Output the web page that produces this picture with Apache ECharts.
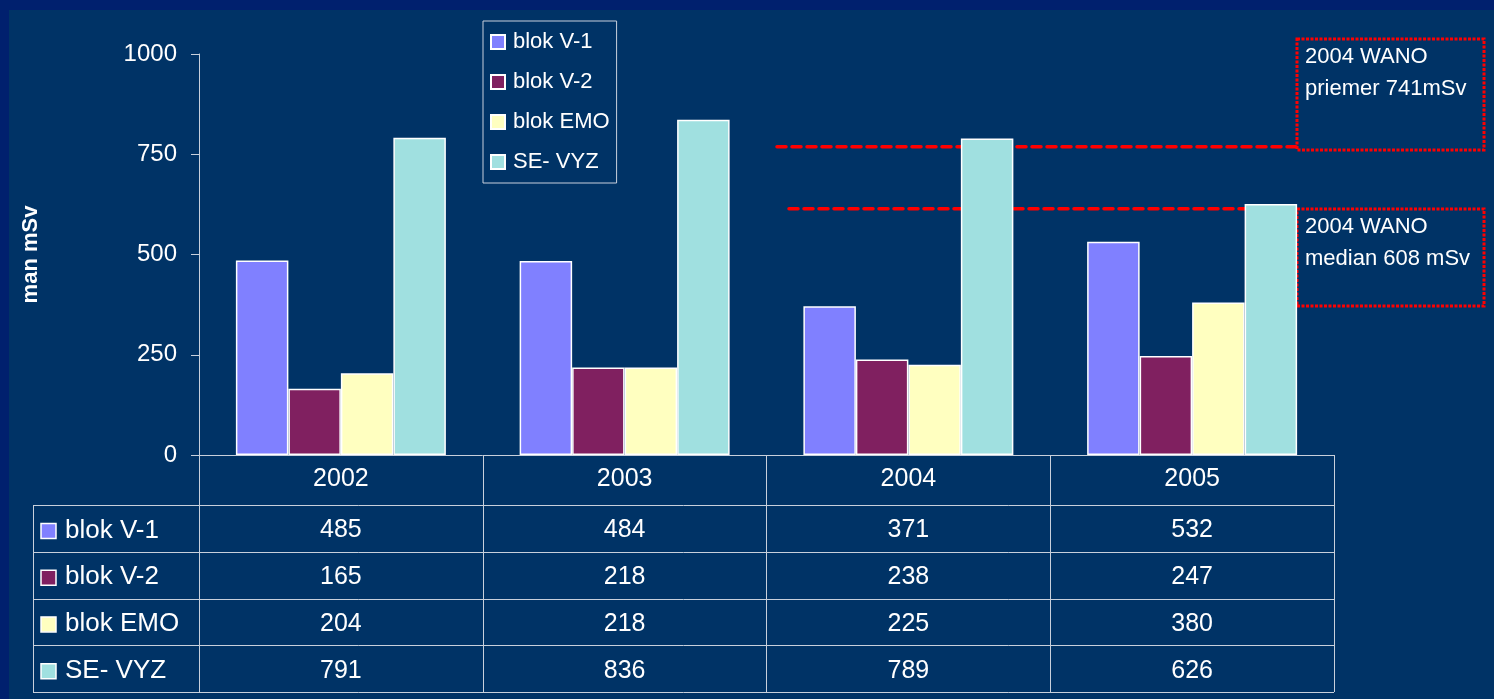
<!DOCTYPE html>
<html>
<head>
<meta charset="utf-8">
<script src="https://cdn.jsdelivr.net/npm/echarts@6/dist/echarts.min.js"></script>
<style>
  html, body { margin: 0; padding: 0; background: #00206e; }
  #chart { width: 1494px; height: 699px; }
</style>
</head>
<body>
<div id="chart"></div>
<script>
// data
const categories = ['2002', '2003', '2004', '2005'];
const seriesNames = ['blok V-1', 'blok V-2', 'blok EMO', 'SE- VYZ'];
const blokV1 = [485, 484, 371, 532];
const blokV2 = [165, 218, 238, 247];
const blokEMO = [204, 218, 225, 380];
const seVYZ = [791, 836, 789, 626];
const seriesColors = ['#8080ff', '#802060', '#ffffc0', '#a0e0e0'];
// where the dashed WANO lines are drawn (as on the picture) and their notes
const wanoLevels = [769, 614];
const wanoNotes = [['2004 WANO', 'priemer 741mSv'], ['2004 WANO', 'median 608 mSv']];

const allSeries = [blokV1, blokV2, blokEMO, seVYZ];
const FONT = '"Liberation Sans", Arial, sans-serif';
const LINE = '#c8d0dc';
const GRID = { left: 199, top: 54, width: 1135, height: 401 };

const chart = echarts.init(document.getElementById('chart'));

const option = {
  backgroundColor: '#00206e',
  textStyle: { fontFamily: FONT },
  animation: false,
  grid: GRID,
  legend: {
    orient: 'vertical',
    left: 483,
    top: 21,
    padding: [9, 7, 9, 7],
    itemGap: 16,
    itemWidth: 14,
    itemHeight: 14,
    borderColor: LINE,
    borderWidth: 1,
    icon: 'rect',
    data: seriesNames,
    textStyle: { color: '#fff', fontSize: 22, lineHeight: 24, padding: [0, 0, 0, 3], fontFamily: FONT }
  },
  xAxis: {
    type: 'category',
    data: categories,
    axisLine: { lineStyle: { color: LINE, width: 1 } },
    axisTick: { show: true, length: 237, lineStyle: { color: LINE, width: 1 } },
    axisLabel: { color: '#fff', fontSize: 25, margin: 12, fontFamily: FONT }
  },
  yAxis: {
    type: 'value',
    min: 0,
    max: 1000,
    interval: 250,
    name: 'man mSv',
    nameLocation: 'middle',
    nameRotate: 90,
    nameGap: 157,
    nameTextStyle: { color: '#fff', fontSize: 22, fontWeight: 'bold', fontFamily: FONT },
    splitLine: { show: false },
    axisLine: { show: true, lineStyle: { color: LINE, width: 1 } },
    axisTick: { show: true, length: 8, lineStyle: { color: LINE } },
    axisLabel: { color: '#fff', fontSize: 24, margin: 22, fontFamily: FONT,
      formatter: (v) => String(v) }
  },
  series: seriesNames.map((name, i) => ({
    name: name,
    type: 'bar',
    data: allSeries[i],
    barGap: 0,
    barCategoryGap: '26%',
    itemStyle: { color: seriesColors[i], borderColor: '#ffffff', borderWidth: 1.5 }
  }))
};
chart.setOption(option);

// table under the axis, dashed lines and note boxes
function drawExtras() {
  const g = [];
  // inner panel
  g.push({ type: 'rect', z: -10, silent: true,
    shape: { x: 9, y: 10, width: 1485, height: 689 }, style: { fill: '#003366' } });

  const xEnd = GRID.left + GRID.width;
  const rowTop = 505, rowH = 46.75, tableLeft = 33;
  for (let r = 0; r <= seriesNames.length; r++) {
    const y = Math.round(rowTop + r * rowH) + 0.5;
    g.push({ type: 'line', shape: { x1: tableLeft, y1: y, x2: xEnd, y2: y },
      style: { stroke: LINE, lineWidth: 1 } });
  }
  g.push({ type: 'line', shape: { x1: tableLeft + 0.5, y1: rowTop, x2: tableLeft + 0.5, y2: rowTop + rowH * 4 + 1 },
    style: { stroke: LINE, lineWidth: 1 } });

  seriesNames.forEach((name, r) => {
    const cy = rowTop + rowH * (r + 0.5) + 2;
    g.push({ type: 'rect', shape: { x: 41, y: cy - 7, width: 15, height: 15 },
      style: { fill: seriesColors[r], stroke: '#fff', lineWidth: 1.5 } });
    g.push({ type: 'text', x: 65, y: cy,
      style: { text: name, fill: '#fff', font: '26px ' + FONT, verticalAlign: 'middle', textAlign: 'left' } });
    categories.forEach((c, k) => {
      const cx = chart.convertToPixel({ xAxisIndex: 0 }, c);
      g.push({ type: 'text', x: cx, y: cy,
        style: { text: String(allSeries[r][k]), fill: '#fff', font: '25px ' + FONT, verticalAlign: 'middle', textAlign: 'center' } });
    });
  });

  // dashed WANO lines
  const lineStarts = [777, 789];
  const boxTops = [39, 209];
  const boxH = [111, 97];
  wanoLevels.forEach((v, i) => {
    const y = chart.convertToPixel({ yAxisIndex: 0 }, v);
    g.push({ type: 'line', shape: { x1: lineStarts[i], y1: y, x2: 1297, y2: y },
      style: { stroke: '#ff0000', lineWidth: 3.5, lineDash: [9, 6], lineCap: 'round' } });
    g.push({ type: 'rect', shape: { x: 1297, y: boxTops[i], width: 187, height: boxH[i] },
      style: { fill: 'none', stroke: '#ff0000', lineWidth: 3, lineDash: [3, 1.5] } });
    wanoNotes[i].forEach((t, j) => {
      g.push({ type: 'text', x: 1305, y: boxTops[i] + 18 + j * 32,
        style: { text: t, fill: '#fff', font: '22px ' + FONT, verticalAlign: 'middle', textAlign: 'left' } });
    });
  });

  chart.setOption({ graphic: g });
}
drawExtras();
</script>
</body>
</html>
